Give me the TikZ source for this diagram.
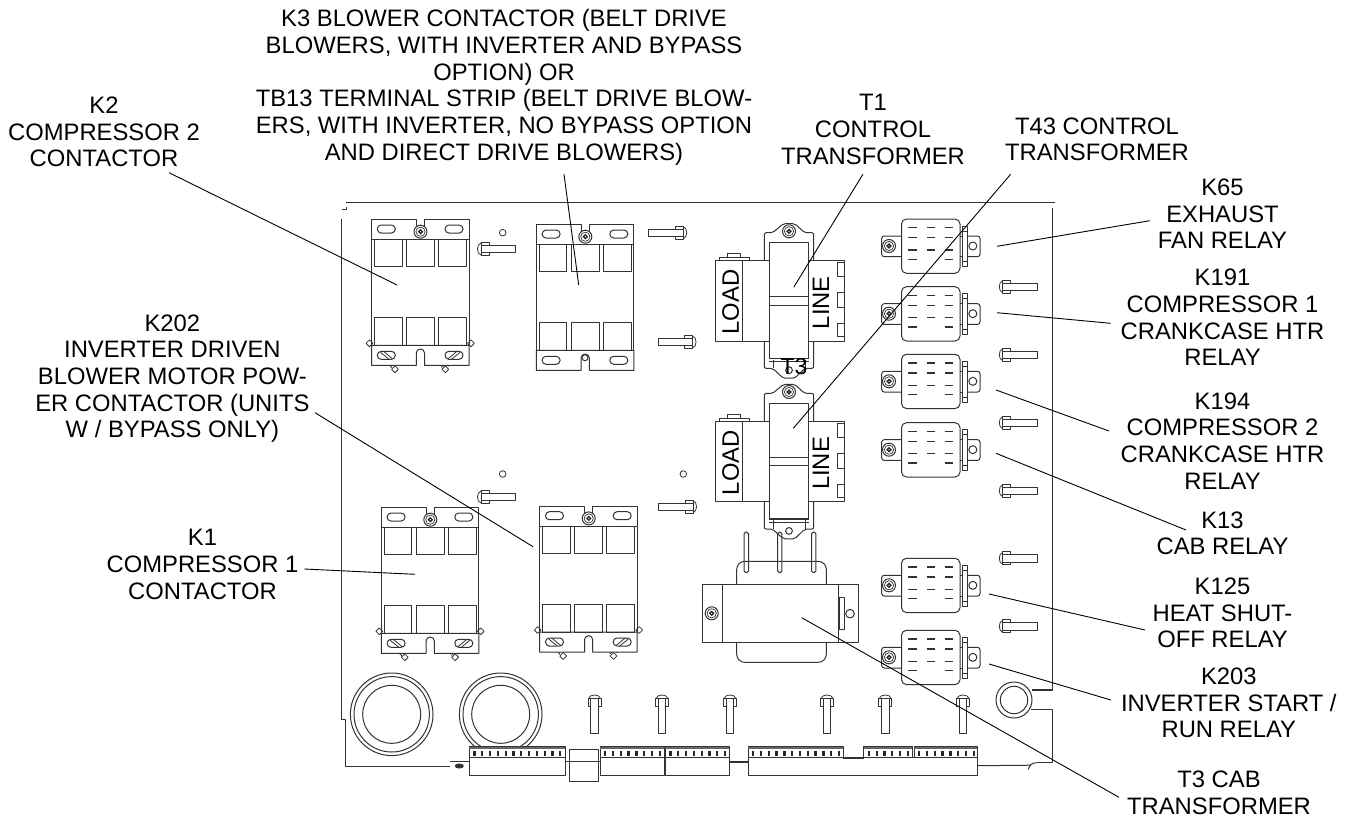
\documentclass[tikz,border=0pt]{standalone}
\usepackage{fontspec}
\setmainfont{Liberation Sans}
\tikzset{
  part/.style={draw=black!80,line width=1pt,line join=round},
  lead/.style={draw=black,line width=0.9pt},
  lbl/.style={font=\fontsize{23.8}{26.67}\selectfont,align=center,inner sep=0pt,text=black},
  partlbl/.style={font=\fontsize{23.8}{26.67}\selectfont,inner sep=0pt,text=black},
  pics/screw/.style={code={
    \draw[part,fill=white] (0,0) circle[radius=6.5pt];
    \draw[part,line width=0.7pt] (0,0) circle[radius=4.6pt];
    \fill[black!85] (0,-2.8) -- (2.8,0) -- (0,2.8) -- (-2.8,0) -- cycle;
    \fill[white] (0,0) circle[radius=0.7pt];
  }},
  pics/studbolt/.style={code={
    \draw[part] (3.5,-3.7) rectangle (38,3.7);
    \draw[part] (11.5,-3.7) -- (11.5,-6.5) -- (3.5,-6.5) -- (3.5,6.5) -- (11.5,6.5) -- (11.5,3.7);
    \draw[part,line width=0.8pt] (3.5,-6) .. controls (-1.2,-5) and (-1.2,5) .. (3.5,6);
  }},
  pics/contactor/.style={code={
    \draw[part,fill=white] (0,20) -- (0,0) -- (45,0) -- (45,8) -- (53,8) -- (53,0) -- (97.5,0) -- (97.5,20) -- cycle;
    \draw[part] (0,20) -- (0,126) (97.5,20) -- (97.5,126);
    \draw[part,fill=white] (0,126) -- (97.5,126) -- (97.5,146) -- (53,146) [rounded corners=4pt] -- (53,129.7)
      -- (44.8,129.7) [sharp corners] -- (44.8,146) -- (0,146) -- cycle;
    \foreach \u/\v in {2.8/30.5,34.8/62.8,67.2/95.2} {
      \draw[part] (\u,20) rectangle (\v,47.4);
      \draw[part] (\u,98) rectangle (\v,126);
    }
    \foreach \s in {14.8,82.5} {
      \draw[part,rounded corners=3.9pt] ({\s-9},5.7) rectangle ({\s+9},13.7);
      \draw[part,rounded corners=3.9pt] ({\s-9},132) rectangle ({\s+9},140);
    }
    \pic at (49,12.4) {screw};
  }},
  pics/clipbits/.style={code={
    \foreach \u/\w in {-2/124,99.5/124,23.5/150,73.8/150}
      \draw[part,line width=0.8pt] (\u,\w-3.4) -- (\u+3.4,\w) -- (\u,\w+3.4) -- (\u-3.4,\w) -- cycle;
    \draw[part,line width=0.8pt] (18,146) -- (20.5,148.5) (70,148) -- (72,146) (77,147) -- (78,146);
  }},
  pics/clipbars/.style={code={
    \draw[part,line width=0.8pt] (9,133) -- (17.5,140) (12,132) -- (21,139.5);
    \draw[part,line width=0.8pt] (76.5,139.5) -- (85.5,132) (80,140) -- (88.5,133);
  }},
  pics/relay/.style={code={
    \draw[part,rounded corners=2.5pt] (0,17) -- (-19.8,17) -- (-19.8,37.7) -- (0,37.7);
    \draw[part,rounded corners=2.5pt] (66.3,17) -- (78.5,17) -- (78.5,37.7) -- (66.3,37.7);
    \draw[part,rounded corners=5pt] (0,0) rectangle (58.5,54.3);
    \draw[part] (61,7) rectangle (66.3,47.7);
    \draw[part] (58.5,17) -- (61,17) (58.5,37.7) -- (61,37.7) (61,12) -- (66.3,12) (61,42.7) -- (66.3,42.7);
    \draw[part] (71.3,27) circle[radius=4pt];
    \pic at (-12.5,27) {screw};
    \foreach \h in {8.7,18.7,31}
      \foreach \g in {11,29.3,47.5}
        \draw[part,line width=1.2pt] (\g-4.3,\h) -- (\g+4.3,\h);
    \foreach \g in {11,47.5}
      \draw[part,line width=1.2pt] (\g-4.3,40.3) -- (\g+4.3,40.3);
  }},
  pics/ctltrans/.style={code={
    \draw[part,fill=white,rounded corners=2pt] (-24.7,135.7) -- (-24.7,0) -- (-16.3,0) -- (-5.7,-9) -- (5.7,-9) -- (15.7,0)
      -- (24.7,0) -- (24.7,135.7) -- (15.7,135.7) -- (5.7,145.5) -- (-5.7,145.5) -- (-16.3,135.7) -- cycle;
    \pic at (0,-1.4) {screw};
    \draw[part] (-61.7,25) -- (-61.7,20.6) -- (-49,20.6) -- (-49,25);
    \draw[part] (-69.7,28) -- (-69.7,25) -- (-40,25) -- (-40,28);
    \draw[part,fill=white] (-73.7,28) rectangle (-19.7,108.3);
    \draw[part] (-46.7,28) -- (-46.7,108.3);
    \draw[part,line width=1.4pt,dashed] (-73.7,30) -- (-73.7,106);
    \draw[part,fill=white] (19.7,28) rectangle (55.3,108.3);
    \foreach \u/\v in {30/44,60/75,90.6/104}
      \draw[part] (48.3,\u) rectangle (55.3,\v);
    \draw[part,fill=white] (-19.7,9.6) rectangle (19.7,125.6);
    \draw[part] (-19.7,64) -- (19.7,64) (-19.7,72.3) -- (19.7,72.3);
    \draw[part,line width=1.4pt] (-19.7,125.6) -- (19.7,125.6);
    \draw[part] (-19.7,129) -- (19.7,129) (-16,127) -- (-16,135.7) (16,127) -- (16,135.7);
    \draw[part] (0,137.5) circle[radius=3.4pt];
    \node[partlbl,rotate=90] (-load) at (-58.3,69.3) {LOAD};
    \node[partlbl,rotate=90] (-line) at (32,70) {LINE};
  }},
}
\begin{document}
\begin{tikzpicture}[x=1pt,y=-1pt]
      \useasboundingbox (0,0) rectangle (1354,819);

      \draw[part] (345.7,202.6) -- (1055,202.6);
      \draw[part] (341.7,209) -- (346,209) -- (346,207);
      \draw[part] (341.7,219) -- (341.7,719.3) -- (345.7,719.3) -- (345.7,766.7) -- (450,766.7);
      \draw[part,line width=0.8pt] (450,761.7) -- (469.3,761.7);
      \draw[part,fill=black!80] (459.3,766) ellipse[x radius=4pt,y radius=2pt];
      \draw[part,line width=1.3pt] (1052.3,208) -- (1052.3,690) -- (1031.7,690);
      \draw[part,line width=1.3pt] (1031,709.3) -- (1052.3,709.3) -- (1052.3,762.7) -- (1036.7,762.7);
      \draw[part] (1036.7,762.7) .. controls (1031,763) and (1030,765) .. (1028.3,769.3);
      \draw[part] (977.3,765.7) -- (1031,765.2);

      \foreach \px/\py in {371.5/219.3,381.3/507.3,539.7/506} {
        \pic at (\px,\py) {clipbits};
        \pic at (\px,\py) {contactor};
        \pic at (\px,\py) {clipbars};
      }
      \pic at (536.3,224.3) {contactor};
      \draw[part] (585,357.7) circle[radius=3pt];

      \pic at (477.5,249) {studbolt};
      \pic at (477.5,497) {studbolt};
      \pic[xscale=-1] at (686.7,232.7) {studbolt};
      \pic[xscale=-1] at (696,342) {studbolt};
      \pic[xscale=-1] at (696.5,506.7) {studbolt};
      \foreach \py in {286.7,354.7,422.7,490.7,558.3,626.3}
        \pic at (999.3,\py) {studbolt};
      \foreach \px in {594.5,662,730,827,885.3,963}
        \pic[rotate=-90] at (\px,695) {studbolt};

      \foreach \px/\py in {502.7/232.7,502.7/474,683.3/474}
        \draw[part,line width=0.8pt] (\px,\py) circle[radius=3.3pt];

      \foreach \py in {219,286.7,354.3,422.7,558.3,630.3}
        \pic at (901.5,\py) {relay};

      \pic (ctla) at (789,232.7) {ctltrans};
      \pic (ctlb) at (789,393.4) {ctltrans};
      \node[partlbl,font=\fontsize{23}{26}\selectfont] (t3mark) at (794,366.5) {T3};

      \foreach \px in {746.3,779.7,813.7}
        \draw[part,rounded corners=1.8pt] (\px-2.2,532) -- (\px-2.2,572.7) -- (\px+2.2,572.7) -- (\px+2.2,532) -- cycle;
      \draw[part,rounded corners=8pt] (736.7,584.3) -- (736.7,561.3) -- (826.3,561.3) -- (826.3,584.3);
      \draw[part,rounded corners=8pt] (736.7,642.7) -- (736.7,662.3) -- (826.3,662.3) -- (826.3,642.7);
      \draw[part] (702.7,584.3) rectangle (858.3,642.7);
      \draw[part] (722.3,584.3) -- (722.3,642.7) (838.3,584.3) -- (838.3,642.7);
      \draw[part] (839,597.3) rectangle (844.7,629.3);
      \draw[part] (850,613.7) circle[radius=4.3pt];
      \pic at (711.7,613.3) {screw};

      \foreach \px in {391.7,500.7} {
        \draw[part] (\px,714.3) circle[radius=41.3pt];
        \draw[part] (\px,714.3) circle[radius=37.7pt];
        \draw[part] (\px,714.3) circle[radius=29pt];
      }
      \draw[part] (1014,700) circle[radius=18pt];
      \draw[part] (1014,700) circle[radius=13.7pt];

      \foreach \u/\v in {469.3/565,600/664.3,665.3/729.3,748/977.3}
        \draw[part,fill=white] (\u,757.5) rectangle (\v,775.3);
      \foreach \u/\v/\n in {469.3/565/11,600/664.3/7,665.3/729.3/7,748/843.3/11,863.7/912.3/5,914/977.3/7} {
        \draw[part,fill=white] (\u,746.7) rectangle (\v,757.5);
        \fill[black!60] (\u,746.7) rectangle (\v,749);
        \foreach \t in {0,...,\n}
          \fill[black!85] ({\u+4+\t*7.8},751) rectangle ({\u+6.3+\t*7.8},755.7);
      }
      \draw[part,line width=0.8pt] (843.3,758) -- (863.7,758);
      \draw[part] (569,749.3) rectangle (598.7,781.3);
      \draw[part,line width=0.8pt] (565,761.5) -- (600,761.5);
      \draw[part,line width=0.7pt] (729.3,761.2) -- (748,761.2) (729.3,762.8) -- (748,762.8);

      \node[lbl] (k3) at (504,87.5) {K3 BLOWER CONTACTOR (BELT DRIVE\\BLOWERS, WITH INVERTER AND BYPASS\\OPTION) OR\\TB13 TERMINAL STRIP (BELT DRIVE BLOW-\\ERS, WITH INVERTER, NO BYPASS OPTION\\AND DIRECT DRIVE BLOWERS)};
      \node[lbl] (k2) at (104,132) {K2\\COMPRESSOR 2\\CONTACTOR};
      \node[lbl] (k202) at (172.4,378.5) {K202\\INVERTER DRIVEN\\BLOWER MOTOR POW-\\ER CONTACTOR (UNITS\\W / BYPASS ONLY)};
      \node[lbl] (k1) at (202.5,564.3) {K1\\COMPRESSOR 1\\CONTACTOR};
      \node[lbl] (t1) at (873,129.3) {T1\\CONTROL\\TRANSFORMER};
      \node[lbl] (t43) at (1097,139.3) {T43 CONTROL\\TRANSFORMER};
      \node[lbl] (k65) at (1222.5,214) {K65\\EXHAUST\\FAN RELAY};
      \node[lbl] (k191) at (1222.5,317.5) {K191\\COMPRESSOR 1\\CRANKCASE HTR\\RELAY};
      \node[lbl] (k194) at (1222.5,440.7) {K194\\COMPRESSOR 2\\CRANKCASE HTR\\RELAY};
      \node[lbl] (k13) at (1222.5,533.3) {K13\\CAB RELAY};
      \node[lbl] (k125) at (1222.5,613) {K125\\HEAT SHUT-\\OFF RELAY};
      \node[lbl] (k203) at (1228.8,703) {K203\\INVERTER START /\\RUN RELAY};
      \node[lbl] (t3) at (1219,792.7) {T3 CAB\\TRANSFORMER};

      \coordinate (k3a) at (564,174.3);
      \coordinate (k3b) at (578.7,285);
      \coordinate (k2a) at (169,172.7);
      \coordinate (k2b) at (397,285);
      \coordinate (k202a) at (315,412.7);
      \coordinate (k202b) at (533,546.7);
      \coordinate (k1a) at (304.3,569);
      \coordinate (k1b) at (415,574.3);
      \coordinate (t1a) at (862.9,174.3);
      \coordinate (t1b) at (793.7,287.3);
      \coordinate (t43a) at (1010.6,174.3);
      \coordinate (t43b) at (793.3,428.3);
      \coordinate (k65a) at (1149.8,220.7);
      \coordinate (k65b) at (997,246.3);
      \coordinate (k191a) at (1110.7,323.3);
      \coordinate (k191b) at (997,312.7);
      \coordinate (k194a) at (1109,431);
      \coordinate (k194b) at (996,390);
      \coordinate (k13a) at (1186,530);
      \coordinate (k13b) at (996,453.3);
      \coordinate (k125a) at (1145,630);
      \coordinate (k125b) at (989,594);
      \coordinate (k203a) at (1111,700);
      \coordinate (k203b) at (989,664);
      \coordinate (t3a) at (1119,797.3);
      \coordinate (t3b) at (801.7,617.7);
      \begin{scope}[-]
        \draw[lead] (k3a) to (k3b);
        \draw[lead] (k2a) to (k2b);
        \draw[lead] (k202a) to (k202b);
        \draw[lead] (k1a) to (k1b);
        \draw[lead] (t1a) to (t1b);
        \draw[lead] (t43a) to (t43b);
        \draw[lead] (k65a) to (k65b);
        \draw[lead] (k191a) to (k191b);
        \draw[lead] (k194a) to (k194b);
        \draw[lead] (k13a) to (k13b);
        \draw[lead] (k125a) to (k125b);
        \draw[lead] (k203a) to (k203b);
        \draw[lead] (t3a) to (t3b);
      \end{scope}
    \end{tikzpicture}
\end{document}
